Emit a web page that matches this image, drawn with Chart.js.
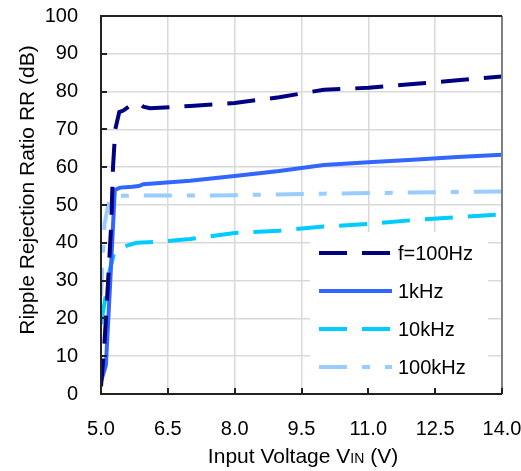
<!DOCTYPE html>
<html lang="en">
<head>
<meta charset="utf-8">
<title>ripple rejection</title>
<script src="https://cdn.jsdelivr.net/npm/chart.js@4.4.0/dist/chart.umd.min.js"></script>
<style>
body { margin: 0; background: #fff; }
</style>
</head>
<body>
<canvas id="chart" width="521" height="471"></canvas>
<script>
// values (VIN in volts, RR in dB)
const vin100Hz = [5.0, 5.07, 5.16, 5.23, 5.27, 5.32, 5.41, 5.5, 5.7, 5.88, 5.95, 6.1, 7.0, 8.0, 9.0, 10.0, 11.0, 12.0, 13.0, 14.0];
const rr100Hz  = [2, 12, 30, 45, 60, 70, 74.6, 75, 76.7, 76.7, 76, 75.6, 76.2, 77, 78.5, 80.5, 81, 82, 83, 84];

const vin1kHz = [5.0, 5.11, 5.2, 5.31, 5.43, 5.7, 5.85, 5.95, 7.0, 8.0, 9.0, 10.0, 11.0, 12.0, 13.0, 14.0];
const rr1kHz  = [3.3, 7.6, 28, 54, 54.6, 54.8, 55, 55.5, 56.4, 57.7, 59, 60.6, 61.3, 62, 62.7, 63.3];

const vin10kHz = [5.0, 5.12, 5.2, 5.3, 5.4, 5.6, 5.8, 6.2, 7.0, 8.0, 9.0, 10.0, 11.0, 12.0, 13.0, 14.0];
const rr10kHz  = [18.5, 27, 33, 37.5, 38.5, 39.3, 40, 40.2, 41, 42.6, 43.2, 44.3, 45, 46, 46.8, 47.5];

const vin100kHz = [5.0, 5.04, 5.08, 5.18, 5.3, 6.0, 7.0, 8.0, 10.0, 12.0, 14.0];
const rr100kHz  = [26, 36, 45, 51, 52.4, 52.5, 52.5, 52.6, 53, 53.3, 53.6];

const seriesLabels = ['f=100Hz', '1kHz', '10kHz', '100kHz'];
const xTitle = ['Input Voltage V', 'IN', ' (V)'];
const yTitle = 'Ripple Rejection Ratio RR (dB)';

const FONT = "'Liberation Sans', Arial, sans-serif";

function pts(xs, ys) {
	return xs.map((x, i) => ({x: x, y: ys[i]}));
}

const styles = [
	{color: '#000080', dash: [28, 15]},
	{color: '#3366ff', dash: []},
	{color: '#00ccff', dash: [28, 15]},
	{color: '#99ccff', dash: [28, 15, 8, 15]}
];
const xy = [[vin100Hz, rr100Hz], [vin1kHz, rr1kHz], [vin10kHz, rr10kHz], [vin100kHz, rr100kHz]];

const data = {
	datasets: seriesLabels.map((label, i) => ({
		label: label,
		data: pts(xy[i][0], xy[i][1]),
		borderColor: styles[i].color,
		backgroundColor: styles[i].color,
		borderDash: styles[i].dash,
		borderWidth: 4,
		borderCapStyle: 'butt',
		pointRadius: 0,
		tension: 0,
		fill: false
	}))
};

// legend box, frame, inner ticks and axis titles
const decor = {
	id: 'decor',
	afterDatasetsDraw(chart) {
		const ctx = chart.ctx;
		const a = chart.chartArea;
		const xs = chart.scales.x, ys = chart.scales.y;
		ctx.save();

		// legend
		ctx.fillStyle = '#fff';
		ctx.fillRect(310, 232, 178, 158);
		ctx.font = '20px ' + FONT;
		ctx.textBaseline = 'middle';
		ctx.textAlign = 'left';
		chart.data.datasets.forEach((ds, i) => {
			const y = 253 + i * 38;
			ctx.strokeStyle = ds.borderColor;
			ctx.lineWidth = 4;
			ctx.lineCap = 'butt';
			ctx.setLineDash(ds.borderDash);
			ctx.beginPath();
			ctx.moveTo(319, y);
			ctx.lineTo(392, y);
			ctx.stroke();
			ctx.setLineDash([]);
			ctx.fillStyle = '#000';
			ctx.fillText(ds.label, 398, y + 1);
		});

		// frame
		ctx.lineWidth = 2;
		ctx.strokeStyle = '#808080';
		ctx.beginPath();
		ctx.moveTo(a.right, a.top);
		ctx.lineTo(a.right, a.bottom);
		ctx.stroke();
		ctx.strokeStyle = '#222';
		ctx.beginPath();
		ctx.moveTo(a.right, a.top);
		ctx.lineTo(a.left, a.top);
		ctx.lineTo(a.left, a.bottom);
		ctx.lineTo(a.right, a.bottom);
		ctx.stroke();

		// inner tick marks
		ctx.lineWidth = 2;
		ctx.beginPath();
		xs.ticks.forEach(t => {
			const px = Math.round(xs.getPixelForValue(t.value));
			ctx.moveTo(px, a.bottom);
			ctx.lineTo(px, a.bottom - 6);
		});
		ys.ticks.forEach(t => {
			const py = Math.round(ys.getPixelForValue(t.value));
			ctx.moveTo(a.left, py);
			ctx.lineTo(a.left + 6, py);
		});
		ctx.stroke();

		// y title
		ctx.fillStyle = '#000';
		ctx.font = '21px ' + FONT;
		ctx.textAlign = 'center';
		ctx.textBaseline = 'middle';
		ctx.save();
		ctx.translate(28, 190);
		ctx.rotate(-Math.PI / 2);
		ctx.fillText(yTitle, 0, 0);
		ctx.restore();

		// x title with small IN
		const big = '21px ' + FONT, small = '14px ' + FONT;
		ctx.textAlign = 'left';
		ctx.textBaseline = 'alphabetic';
		ctx.font = big;
		const w0 = ctx.measureText(xTitle[0]).width;
		const w2 = ctx.measureText(xTitle[2]).width;
		ctx.font = small;
		const w1 = ctx.measureText(xTitle[1]).width;
		let x = 303 - (w0 + w1 + w2) / 2;
		const base = 463;
		ctx.font = big;
		ctx.fillText(xTitle[0], x, base);
		x += w0;
		ctx.font = small;
		ctx.fillText(xTitle[1], x, base);
		x += w1;
		ctx.font = big;
		ctx.fillText(xTitle[2], x, base);

		ctx.restore();
	}
};

Chart.defaults.color = '#000';
Chart.defaults.font.family = FONT;
Chart.defaults.font.size = 20;

const config = {
	type: 'line',
	data: data,
	options: {
		responsive: false,
		animation: false,
		devicePixelRatio: 1,
		layout: {padding: {left: 0, top: 16, right: 19, bottom: 0}},
		plugins: {
			legend: {display: false},
			tooltip: {enabled: false}
		},
		scales: {
			x: {
				type: 'linear',
				min: 5,
				max: 14,
				afterFit: s => { s.height = 77; s.paddingLeft = 0; s.paddingRight = 0; },
				ticks: {
					stepSize: 1.5,
					padding: 23,
					maxRotation: 0,
					callback: v => v.toFixed(1)
				},
				grid: {color: '#d9d9d9', lineWidth: 1.5, drawTicks: false},
				border: {display: false}
			},
			y: {
				min: 0,
				max: 100,
				afterFit: s => { s.width = 101; s.paddingTop = 0; s.paddingBottom = 0; },
				ticks: {stepSize: 10, padding: 23},
				grid: {color: '#d9d9d9', lineWidth: 1.5, drawTicks: false},
				border: {display: false}
			}
		}
	},
	plugins: [decor]
};

var chart = new Chart(document.getElementById('chart'), config);
</script>
</body>
</html>
